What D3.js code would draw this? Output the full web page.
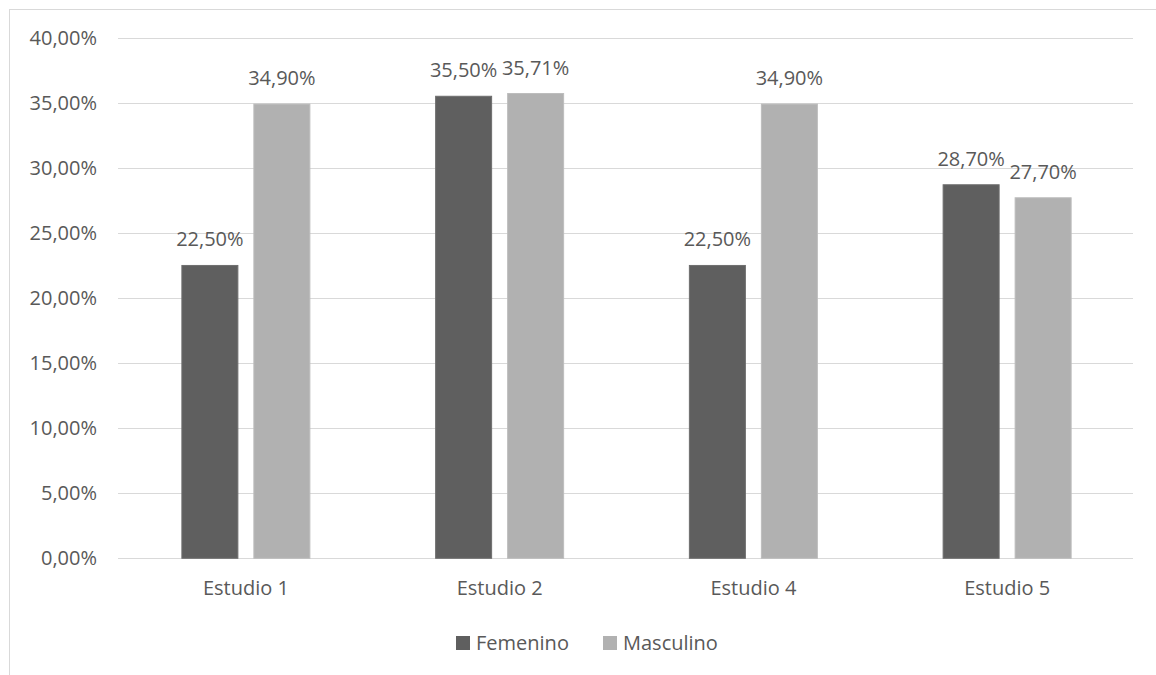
<!DOCTYPE html>
<html>
<head>
<meta charset="utf-8">
<script src="https://cdn.jsdelivr.net/npm/d3@7"></script>
<style>
  html, body { margin: 0; padding: 0; background: #fff; }
  svg { display: block; }
  text { font-family: "Open Sans", "Noto Sans", sans-serif; fill: #595959; }
</style>
</head>
<body>
<svg id="chart" width="1156" height="675"></svg>
<script>
// Data
const categories = ["Estudio 1", "Estudio 2", "Estudio 4", "Estudio 5"];
const seriesNames = ["Femenino", "Masculino"];
const femenino = [22.50, 35.50, 22.50, 28.70];
const masculino = [34.90, 35.71, 34.90, 27.70];
const yTicks = [0, 5, 10, 15, 20, 25, 30, 35, 40];
const seriesColors = ["#5f5f5f", "#b1b1b1"];

const series = [femenino, masculino];
const fmt = v => v.toFixed(2).replace(".", ",") + "%";
const FS = "20px";

const svg = d3.select("#chart");
const W = 1156, H = 675;
const plot = { left: 118, right: 1133, top: 37.7, bottom: 558.3 };

// Outer chart frame
svg.append("rect")
  .attr("x", 9.5).attr("y", 9.5)
  .attr("width", W + 20).attr("height", H + 20)
  .attr("fill", "#fff").attr("stroke", "#d9d9d9").attr("stroke-width", 1);

const y = d3.scaleLinear().domain([0, 40]).range([plot.bottom, plot.top]);
const x0 = d3.scaleBand().domain(categories).range([plot.left, plot.right]).paddingInner(0).paddingOuter(0);

// Gridlines
svg.append("g").selectAll("line").data(yTicks).join("line")
  .attr("x1", plot.left).attr("x2", plot.right)
  .attr("y1", d => Math.round(y(d)) + 0.5).attr("y2", d => Math.round(y(d)) + 0.5)
  .attr("stroke", "#d9d9d9").attr("stroke-width", 1);

// Y axis labels
svg.append("g").selectAll("text").data(yTicks).join("text")
  .attr("x", 97).attr("y", d => y(d))
  .attr("dy", "0.35em")
  .attr("text-anchor", "end")
  .style("font-size", FS)
  .text(d => fmt(d));

// Bars
const barW = 56, gap = 16;
const offset = i => (i === 0 ? -(gap / 2 + barW) : gap / 2);
series.forEach((vals, si) => {
  const g = svg.append("g");
  g.selectAll("rect").data(vals).join("rect")
    .attr("x", (d, i) => x0(categories[i]) + x0.bandwidth() / 2 + 1 + offset(si))
    .attr("y", d => y(d))
    .attr("width", barW)
    .attr("height", d => plot.bottom - y(d))
    .attr("fill", seriesColors[si])
    .attr("stroke", si === 0 ? "#6e6e6e" : "#bdbdbd")
    .attr("stroke-width", 1);
  g.selectAll("text").data(vals).join("text")
    .attr("x", (d, i) => x0(categories[i]) + x0.bandwidth() / 2 + 1 + offset(si) + barW / 2)
    .attr("y", d => y(d) - 26)
    .attr("dy", "0.35em")
    .attr("text-anchor", "middle")
    .style("font-size", FS)
    .text(d => fmt(d));
});

// Category labels
svg.append("g").selectAll("text").data(categories).join("text")
  .attr("x", d => x0(d) + x0.bandwidth() / 2 + 1)
  .attr("y", 588)
  .attr("dy", "0.35em")
  .attr("text-anchor", "middle")
  .style("font-size", FS)
  .text(d => d);

// Legend
const legendItems = [{ name: seriesNames[0], x: 456 }, { name: seriesNames[1], x: 603 }];
const lg = svg.append("g");
legendItems.forEach((it, i) => {
  lg.append("rect").attr("x", it.x).attr("y", 636).attr("width", 14).attr("height", 14)
    .attr("fill", seriesColors[i]);
  lg.append("text").attr("x", it.x + 20).attr("y", 643).attr("dy", "0.35em")
    .style("font-size", FS).text(it.name);
});
</script>
</body>
</html>
